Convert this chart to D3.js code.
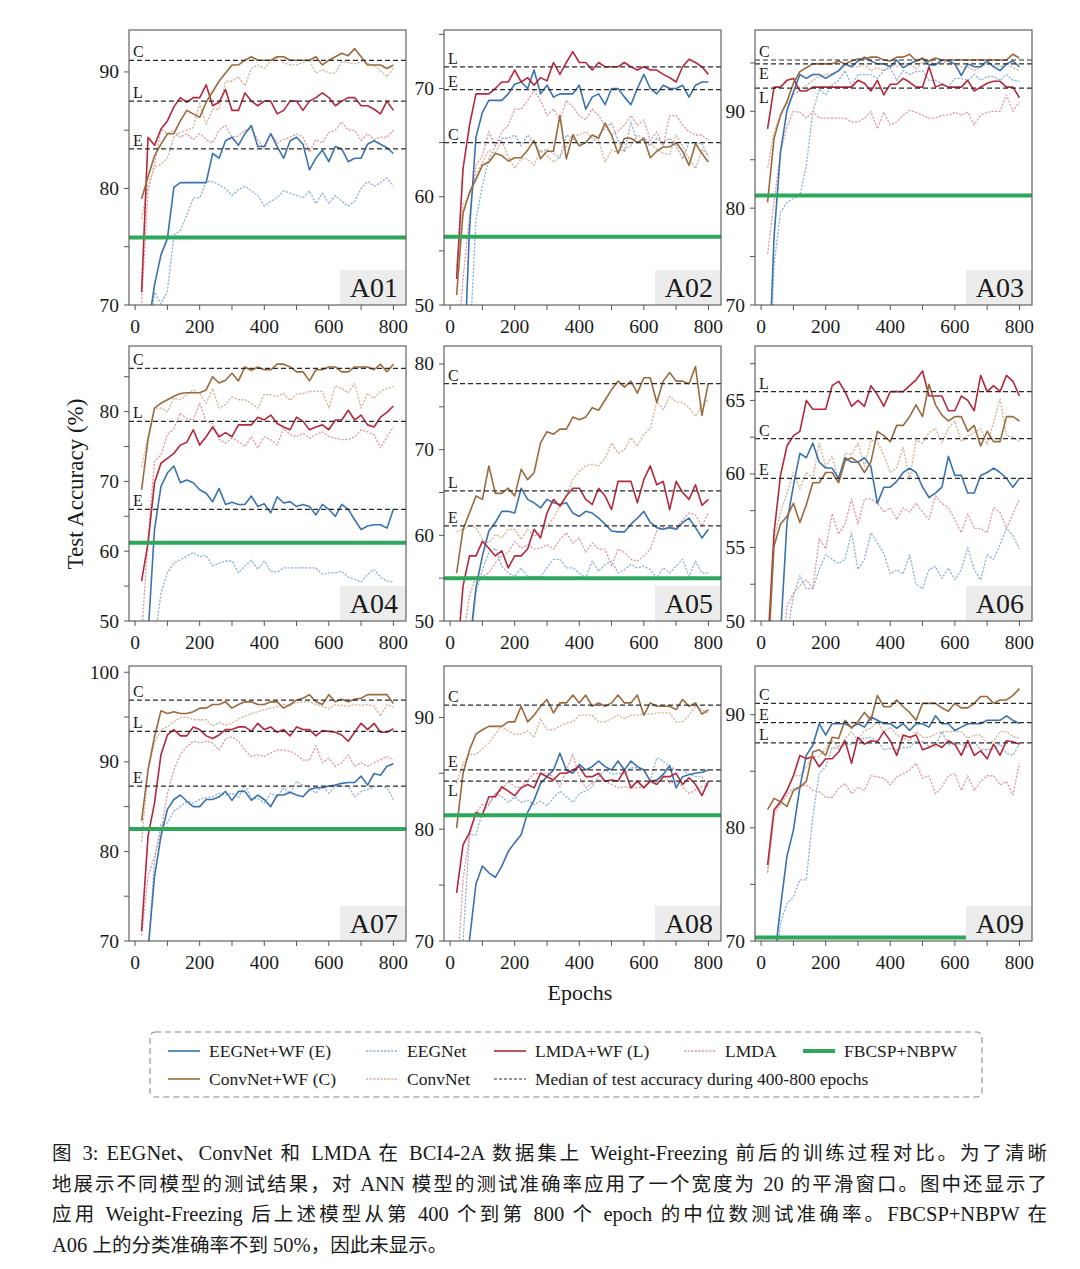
<!DOCTYPE html>
<html><head><meta charset="utf-8">
<script src="https://cdn.jsdelivr.net/npm/d3@7"></script>
<style>
body{margin:0;background:#fff;}
svg text{font-family:"Liberation Serif","Times New Roman",serif;fill:#1a1a1a;}
</style>
</head><body>
<svg id="c" width="1080" height="1269"></svg>
<script>
// ---------------- DATA ----------------
const epochs = [20,40,60,80,100,120,140,160,180,200,220,240,260,280,300,320,340,360,380,400,420,440,460,480,500,520,540,560,580,600,620,640,660,680,700,720,740,760,780,800];
const subjects = ["A01","A02","A03","A04","A05","A06","A07","A08","A09"];
const xTickLabels = [0,200,400,600,800];
const xMinorTicks = [100,300,500,700];

// A01
const a01_EEGNetWF = [65,68,71.7,74.3,75.7,80.1,80.5,80.5,80.5,80.5,80.5,83.0,82.6,84.1,84.4,83.7,84.7,85.4,83.6,83.6,84.7,83.6,82.6,84.1,84.4,83.8,81.6,82.6,83.3,82.3,83.6,83.4,82.3,82.6,82.6,83.8,84.1,83.8,83.5,83.0];
const a01_EEGNet   = [62,66,71.1,70.1,71.2,76.0,76.4,77.7,79.2,79.2,80.6,80.6,80.3,80.0,79.4,79.9,80.2,79.8,79.4,78.5,78.9,79.2,79.8,79.6,79.4,79.2,79.8,78.7,79.6,78.7,79.4,78.9,78.5,78.9,80.0,80.6,80.2,80.5,80.9,80.2];
const a01_LMDAWF   = [71.1,84.4,83.7,85.1,85.8,87.0,87.8,87.4,87.8,87.8,88.9,87.1,87.4,88.5,86.7,86.7,88.2,87.5,87.1,87.5,87.5,86.4,86.7,87.5,87.5,86.7,87.5,87.8,88.2,87.8,87.1,87.5,87.8,87.8,87.1,87.1,86.8,86.4,87.5,86.7];
const a01_LMDA     = [70.2,79.8,82.1,85.1,84.7,85.0,84.4,84.7,84.2,84.7,84.2,83.9,85.0,85.4,84.4,84.5,85.0,85.1,84.2,83.4,84.7,83.9,84.2,84.4,84.7,84.4,83.1,84.2,83.9,84.8,85.0,85.7,85.0,85.0,84.1,84.7,84.2,84.4,84.4,85.0];
const a01_ConvNetWF= [79.1,81.0,82.8,83.8,84.7,84.7,85.8,86.7,86.4,86.1,87.4,88.3,89.2,89.9,90.6,90.6,91.0,91.3,91.0,91.0,91.0,91.3,91.3,91.0,91.0,91.0,91.0,91.3,90.6,91.0,91.3,91.6,91.4,92.0,91.3,90.6,90.6,90.6,90.3,90.6];
const a01_ConvNet  = [77.4,80.3,81.8,82.1,82.6,84.4,84.8,85.0,85.2,87.3,85.5,86.8,86.8,89.2,89.2,89.6,88.8,90.3,90.6,90.3,90.9,91.3,90.8,90.6,90.6,90.8,91.0,89.9,90.2,89.9,89.9,90.9,90.8,90.7,90.9,90.7,90.6,90.1,89.6,90.3];
// A02
const a02_EEGNetWF = [35,42,57,65.5,67.8,68.9,68.9,68.9,69.5,70.4,70.6,70.0,71.7,69.5,70.3,69.2,69.5,69.5,69.5,70.3,68.1,69.2,69.5,68.5,70.0,70.0,69.2,68.5,70.0,71.3,70.0,69.5,70.3,70.0,70.0,70.3,69.2,70.3,70.6,70.6];
const a02_EEGNet   = [30,38,46,57.9,61.0,63.5,64.7,65.4,65.4,65.7,64.7,65.7,65.0,64.1,64.4,64.0,63.6,65.7,65.4,64.7,65.0,65.0,65.7,66.3,66.8,65.2,64.1,66.9,65.0,65.2,64.7,65.4,65.0,65.4,64.7,63.5,65.0,64.9,64.9,63.7];
const a02_LMDAWF   = [52.4,62.6,66.6,69.5,69.5,69.5,70.0,70.6,70.6,71.7,70.6,71.0,70.3,71.0,70.7,72.4,71.3,72.4,73.4,72.4,72.4,71.7,72.4,72.0,72.0,72.0,72.4,72.0,71.7,72.0,71.7,71.7,71.3,71.0,70.6,72.0,72.7,72.4,72.0,71.3];
const a02_LMDA     = [45,52.4,58.2,62.9,63.8,66.0,64.7,66.0,66.6,68.1,68.1,68.9,69.8,68.9,67.5,68.1,67.1,68.9,68.3,67.5,67.1,68.1,67.5,66.6,65.7,66.1,66.6,67.5,66.6,67.1,65.2,66.0,64.7,67.5,67.5,66.6,66.0,65.7,65.7,65.2];
const a02_ConvNetWF= [50.9,58.5,60.4,61.6,62.9,63.2,64.0,63.8,63.3,63.6,63.6,64.3,65.2,63.5,64.2,64.2,67.5,63.5,65.7,64.7,65.0,65.7,65.4,66.8,65.7,64.0,65.4,65.4,65.0,65.4,63.6,64.2,64.6,64.6,65.0,64.2,62.9,64.9,64.0,63.2];
const a02_ConvNet  = [53.6,59.2,60.1,62.0,63.2,64.3,64.0,65.2,63.7,62.6,63.5,63.5,62.9,64.3,63.8,63.2,63.7,64.7,65.7,65.7,66.0,65.4,65.2,63.2,64.3,64.1,64.4,64.7,65.7,65.4,64.9,64.4,64.0,63.9,65.7,64.7,63.5,62.6,64.4,63.8];
// A03
const a03_EEGNetWF = [60,77,85.8,90.1,92.0,93.8,93.4,93.8,93.8,93.4,93.8,94.2,94.9,94.6,95.2,95.6,95.2,94.9,94.9,94.6,95.3,94.5,94.9,95.2,95.5,94.8,94.8,95.3,95.2,94.9,93.7,94.9,94.6,94.6,95.2,94.6,94.2,94.9,95.2,94.6];
const a03_EEGNet   = [58,74.1,79.6,80.6,81.0,81.3,84.4,89.9,92.3,91.7,92.7,93.2,94.2,92.7,93.8,93.8,93.8,93.4,94.2,94.5,93.2,94.2,93.8,94.1,94.2,93.2,93.2,92.9,92.5,93.4,93.4,93.2,93.8,93.2,93.6,93.6,93.2,93.8,93.2,93.1];
const a03_LMDAWF   = [88.2,92.5,92.5,93.2,93.4,92.1,92.1,92.5,92.5,92.5,92.5,92.5,92.5,92.5,93.2,92.9,92.1,93.2,91.7,92.8,92.8,93.4,93.0,92.5,92.5,94.6,92.5,92.8,92.5,92.5,92.5,93.2,92.1,92.5,92.9,93.1,93.1,92.5,92.5,91.4];
const a03_LMDA     = [75.3,80.6,85.8,88.4,90.0,89.9,89.3,90.0,89.3,89.3,89.3,89.3,89.3,88.9,88.9,89.3,90.0,88.2,89.9,88.6,88.9,89.6,90.1,89.9,89.6,89.3,89.3,89.6,89.6,89.9,89.6,89.9,88.6,89.6,89.9,90.0,90.0,91.7,90.0,91.0];
const a03_ConvNetWF= [80.6,87.2,89.6,91.0,92.9,94.1,94.5,94.9,94.9,94.9,94.9,95.2,94.9,95.2,95.4,95.4,95.6,95.6,95.3,95.2,95.6,95.6,95.9,95.2,95.4,95.2,95.5,95.3,95.3,95.3,95.3,95.3,95.3,95.3,95.3,95.3,95.3,95.3,95.9,95.5];
const a03_ConvNet  = [84.1,87.9,89.6,90.8,91.7,92.2,92.7,93.2,93.6,93.8,93.9,94.1,94.8,94.6,94.6,94.8,94.2,94.5,94.2,94.8,94.6,94.9,94.9,94.4,95.1,95.1,94.9,95.2,94.8,94.9,94.6,94.6,94.2,94.6,94.9,94.8,94.6,94.9,94.5,94.2];
// A04
const a04_EEGNetWF = [40,48,63.1,69.3,71.2,72.2,69.8,70.2,69.8,68.8,68.3,67.1,69.0,66.7,67.0,66.7,66.7,67.9,66.4,66.8,65.5,67.8,66.9,67.1,66.4,66.7,66.4,65.2,66.7,66.0,65.0,66.7,66.0,64.5,63.1,63.6,63.8,63.8,63.3,66.0];
const a04_EEGNet   = [38,42,47,54,56.9,58.3,58.8,59.3,59.8,59.2,59.4,57.9,58.3,58.6,58.6,56.9,57.9,58.7,57.4,58.6,57.1,57.0,57.6,57.6,57.6,57.6,57.6,57.6,56.7,56.9,56.9,57.1,56.3,56.0,55.6,56.7,57.4,56.3,55.7,55.6];
const a04_LMDAWF   = [55.7,61.2,69.8,72.6,73.3,74.0,75.2,75.6,77.4,75.2,76.4,77.8,76.4,77.0,76.4,78.1,78.1,78.1,79.2,78.8,79.5,78.3,77.8,77.4,79.2,78.6,77.4,77.8,78.1,77.4,78.8,78.8,80.2,78.8,79.5,78.1,77.8,79.2,79.9,80.8];
const a04_LMDA     = [48,61.7,72.9,73.8,76.7,77.6,79.8,79.0,78.8,81.2,78.6,78.3,76.0,75.5,76.2,75.7,75.0,76.4,74.8,76.4,76.0,75.2,77.6,76.7,76.4,76.9,76.2,76.7,77.1,76.4,76.2,76.0,76.0,76.4,77.4,77.1,76.7,74.8,76.4,77.8];
const a04_ConvNetWF= [68.8,76.0,80.5,81.2,81.7,82.2,82.6,82.7,82.7,82.7,83.1,85.0,84.1,84.5,85.5,84.4,86.4,85.9,86.4,86.0,86.0,86.8,86.8,86.4,85.7,85.7,84.4,86.0,86.0,86.4,86.4,85.7,85.7,86.4,86.4,86.4,86.0,86.8,85.7,86.8];
const a04_ConvNet  = [72.1,76.4,80.5,80.5,80.0,81.9,81.7,82.4,83.1,82.6,81.2,83.3,80.5,81.0,82.1,81.7,81.7,81.2,80.5,82.5,82.4,82.2,82.6,81.6,82.5,82.6,82.9,82.9,82.9,80.5,83.7,83.3,82.7,84.0,80.5,82.6,81.9,82.9,83.3,83.6];
// A05
const a05_EEGNetWF = [38,42,47,53.9,57.6,60.5,61.5,62.8,62.8,62.6,65.5,64.2,63.8,63.2,64.2,63.8,63.6,63.8,62.6,62.2,62.8,62.6,62.0,61.3,60.5,60.4,60.4,61.3,62.0,62.8,61.5,60.9,60.7,60.9,60.7,61.5,62.0,60.9,59.7,60.7];
const a05_EEGNet   = [38,42,46,53.3,56.0,58.0,58.5,56.4,55.6,55.2,56.2,55.2,55.2,55.2,56.2,57.2,57.2,56.2,56.2,55.6,55.0,57.0,55.8,56.6,57.0,55.6,56.0,56.6,56.2,56.4,56.0,55.0,56.2,55.6,56.4,57.2,55.2,57.0,55.6,55.6];
const a05_LMDAWF   = [45,54.1,57.6,57.6,59.3,58.5,57.6,58.2,56.2,57.6,57.6,58.4,60.7,59.7,62.6,64.2,63.4,64.6,65.5,65.5,64.2,63.6,65.5,64.6,63.0,66.3,66.3,66.3,63.8,66.5,68.1,65.9,66.3,63.0,66.3,65.0,64.2,65.9,63.5,64.2];
const a05_LMDA     = [42,48,52.9,55.2,55.2,55.6,56.8,57.6,58.0,59.3,58.5,58.9,58.4,58.5,58.9,58.4,59.5,60.3,59.1,59.7,58.0,59.1,58.4,58.4,56.4,58.4,58.0,57.2,57.0,57.6,58.4,60.5,60.9,60.9,60.9,61.8,62.6,62.4,61.1,62.6];
const a05_ConvNetWF= [55.6,60.7,62.6,64.6,64.2,68.1,64.9,64.9,65.5,64.6,67.7,66.5,67.3,70.8,72.1,71.8,72.4,72.4,73.8,73.5,73.8,74.9,74.6,75.8,77.0,78.0,77.3,78.0,76.6,78.4,78.4,75.5,78.0,79.0,78.0,78.0,77.7,79.7,74.0,77.8];
const a05_ConvNet  = [60.4,60.7,61.1,60.9,59.5,59.1,60.1,59.7,60.7,60.7,59.5,60.7,59.9,60.3,61.1,62.0,63.4,64.6,66.5,67.5,68.1,68.3,68.1,69.0,70.8,69.6,70.0,71.4,70.4,71.8,72.5,75.6,74.7,76.2,75.6,75.5,74.9,73.9,75.3,75.8];
// A06
const a06_EEGNetWF = [42,46,49,56.7,59.2,61.4,61.1,62.1,60.8,60.4,60.4,59.7,61.1,60.8,60.8,61.1,60.5,58.0,59.1,59.1,59.5,60.1,60.4,60.1,59.1,58.4,58.7,59.1,61.2,59.9,59.9,58.7,58.7,59.9,60.1,60.4,60.1,59.7,59.1,59.7];
const a06_EEGNet   = [38,42,46,49,51.7,53.1,52.2,52.2,53.5,54.5,54.2,53.9,54.2,56.0,53.5,54.2,56.0,55.3,54.6,53.2,53.5,53.2,54.5,52.5,52.2,53.5,53.7,52.9,53.6,52.8,53.5,55.0,53.5,52.8,54.5,54.2,55.2,56.3,55.8,54.9];
const a06_LMDAWF   = [48,56.0,59.9,61.9,62.6,62.9,65.0,64.4,64.4,64.4,66.0,66.3,65.6,64.6,65.0,64.6,66.0,65.4,64.6,65.6,65.6,65.6,66.0,66.4,67.0,65.3,65.3,65.3,64.3,64.3,65.3,65.0,64.3,66.7,65.6,66.0,65.6,66.7,66.3,65.3];
const a06_LMDA     = [40,44,47,51.0,51.9,52.4,52.8,52.2,55.6,54.9,57.3,55.9,56.6,58.3,56.6,58.3,58.3,58.0,57.4,57.7,56.9,57.7,57.4,58.0,57.4,56.9,58.5,58.0,57.7,56.9,56.0,57.3,56.3,56.3,56.0,57.7,57.4,56.3,57.3,58.3];
const a06_ConvNetWF= [47,55.1,56.6,57.1,58.0,56.7,57.9,59.4,59.4,60.1,60.1,59.4,60.9,61.1,60.8,60.1,60.8,62.9,62.6,62.2,63.3,63.3,63.9,64.7,63.9,66.1,64.7,64.0,63.6,63.9,63.9,62.9,63.3,61.9,62.9,62.2,62.2,63.9,63.9,63.6];
const a06_ConvNet  = [47,55.6,57.4,58.7,60.1,59.0,60.1,59.7,62.1,60.5,61.2,59.6,61.4,61.3,62.1,60.5,62.3,62.2,61.3,60.1,60.4,61.8,59.6,62.3,62.1,62.8,63.1,62.1,63.1,63.6,62.2,62.6,62.8,63.1,62.0,63.5,65.1,62.6,62.5,62.2];
// A07
const a07_EEGNetWF = [62,69,77.2,81.7,84.7,85.8,86.3,85.6,85.0,85.0,85.8,85.8,86.1,86.7,85.7,86.7,86.7,85.7,86.3,85.8,85.0,86.3,86.3,86.6,86.3,86.1,86.9,87.1,87.1,87.3,87.4,87.6,87.7,87.7,88.4,87.4,88.7,88.5,89.5,89.8];
const a07_EEGNet   = [60,68,79.1,83.0,83.2,84.5,85.0,85.6,85.4,85.8,86.0,86.1,86.5,86.3,86.5,86.0,87.4,85.9,85.9,85.4,86.5,86.1,87.1,86.5,87.8,87.4,87.1,86.5,87.3,86.5,87.3,87.3,87.3,86.1,86.7,86.9,87.2,87.3,87.1,85.8];
const a07_LMDAWF   = [71.1,81.7,85.4,90.8,93.0,93.6,92.9,92.9,93.9,93.6,92.9,92.6,93.0,93.6,93.6,93.9,93.9,93.4,94.3,93.6,93.9,93.3,93.6,92.9,93.9,93.6,93.6,92.9,93.5,93.4,93.3,93.0,92.3,93.3,94.3,93.6,94.3,93.3,93.3,93.7];
const a07_LMDA     = [70.6,77.2,79.5,82.1,86.5,89.1,90.8,91.7,92.3,92.1,92.3,92.1,91.3,92.6,92.8,92.3,91.3,90.6,90.8,90.6,91.0,91.3,91.3,91.2,90.8,90.2,90.2,91.8,89.9,90.4,89.5,89.9,90.8,89.5,89.9,89.5,89.9,90.2,90.6,90.2];
const a07_ConvNetWF= [83.4,89.1,92.8,95.7,95.4,95.6,95.4,95.4,95.6,96.0,96.0,96.4,96.4,96.7,96.0,96.4,96.7,96.7,96.4,96.4,96.7,96.7,96.0,96.4,96.9,97.1,97.5,96.7,96.4,97.5,96.7,97.0,96.7,97.0,97.1,97.5,97.5,97.5,97.5,96.5];
const a07_ConvNet  = [81.1,89.1,92.1,93.6,93.9,94.5,94.9,95.0,94.7,94.7,94.7,94.0,94.4,94.1,94.3,94.8,95.1,95.4,95.6,95.8,96.0,96.2,96.4,96.3,96.6,96.7,96.7,96.4,96.2,95.9,96.4,96.3,96.2,96.4,96.3,96.4,96.2,95.1,96.4,96.1];
// A08
const a08_EEGNetWF = [62,66,70.1,75.1,76.7,76.1,75.7,76.7,78.0,78.8,79.5,81.5,82.6,84.1,84.7,85.3,86.8,85.3,85.0,85.8,85.3,85.6,86.1,85.6,85.3,86.1,85.3,86.1,85.6,85.3,84.3,84.4,84.9,85.7,83.7,84.7,84.9,85.0,85.1,85.3];
const a08_EEGNet   = [62,70,79.5,79.5,81.5,82.2,83.2,82.9,82.4,82.9,82.4,82.6,82.2,82.5,82.1,82.8,83.4,82.9,82.4,83.2,83.4,83.8,84.7,85.3,84.9,85.0,85.0,85.5,85.5,85.3,84.3,86.4,86.1,85.6,85.3,85.3,84.9,84.7,84.7,83.8];
const a08_LMDAWF   = [74.3,78.6,79.7,81.5,81.3,82.9,82.9,83.8,83.4,83.0,83.7,84.0,83.7,85.0,84.7,84.4,85.0,85.0,85.3,85.6,84.7,84.7,85.0,84.3,84.4,84.3,85.3,83.7,84.3,83.7,84.3,84.0,84.7,84.7,85.0,84.0,84.6,84.0,83.0,84.3];
const a08_LMDA     = [66,75.5,79.4,81.5,82.2,82.2,83.2,83.5,84.3,83.8,83.7,84.4,85.0,85.0,85.0,84.7,83.8,85.3,86.7,84.7,83.7,84.1,84.4,84.3,84.0,83.7,83.8,83.7,83.7,83.8,84.4,84.3,84.9,84.1,84.3,83.8,83.2,83.5,83.8,84.0];
const a08_ConvNetWF= [80.1,85.0,87.1,88.5,88.9,89.2,89.2,89.2,89.6,89.6,91.0,89.6,90.2,91.0,91.6,90.4,91.3,91.3,92.0,91.3,92.0,91.0,91.3,91.0,91.3,92.0,91.3,91.3,92.0,90.2,91.3,91.0,91.0,91.0,90.7,91.6,91.0,91.3,90.3,90.7];
const a08_ConvNet  = [84.1,85.9,86.7,86.7,87.2,87.7,88.5,89.2,88.8,88.5,88.5,88.8,88.2,89.9,88.9,88.9,89.2,89.5,89.6,90.2,90.2,90.2,89.6,89.6,89.9,90.2,89.9,90.2,90.2,90.3,90.3,90.4,90.4,90.4,89.6,89.6,90.2,91.0,90.7,90.3];
// A09
const a09_EEGNetWF = [62,68,73,77.5,79.8,83.6,86.4,87.3,89.2,88.2,89.2,89.2,89.2,88.9,89.2,88.9,89.8,89.5,89.2,89.2,88.8,89.2,88.6,89.2,89.2,88.9,89.9,89.2,89.2,88.6,88.9,89.2,89.2,89.2,89.5,89.5,89.5,89.9,89.5,89.2];
const a09_EEGNet   = [60,66,71.6,73.3,73.9,75.4,75.4,81.0,84.8,85.4,87.1,87.0,87.4,87.4,87.9,87.9,88.0,87.7,86.9,87.0,86.9,87.1,87.1,87.7,87.6,87.2,87.2,88.5,87.3,87.4,87.4,87.1,87.6,86.9,86.9,87.0,87.4,86.6,86.4,87.4];
const a09_LMDAWF   = [76.7,81.6,82.3,83.3,84.6,86.4,86.1,86.3,85.4,86.1,86.1,86.7,87.7,85.7,88.0,87.4,87.7,87.6,88.5,87.7,86.4,88.2,88.0,88.2,86.9,87.1,87.4,87.1,87.7,87.4,86.4,87.7,86.4,86.8,86.1,87.4,86.4,87.7,87.6,87.4];
const a09_LMDA     = [76.1,81.3,82.1,82.9,83.5,83.6,83.8,83.3,83.2,82.7,82.7,83.5,83.9,83.0,83.6,83.3,84.6,84.5,84.4,83.8,84.5,84.8,85.1,85.7,84.4,84.6,83.0,83.6,84.6,84.8,83.3,84.6,83.3,84.1,84.6,84.6,83.8,84.1,82.9,85.7];
const a09_ConvNetWF= [81.6,82.6,82.3,81.9,83.3,83.6,84.1,86.7,86.9,86.4,88.0,87.9,89.5,88.8,89.4,90.2,89.5,91.7,90.7,90.7,91.3,90.7,90.2,89.5,91.0,91.0,91.0,90.6,90.3,91.0,90.6,90.6,91.0,91.6,91.6,91.0,91.3,91.3,91.7,92.3];
const a09_ConvNet  = [76.0,81.0,82.4,83.2,84.6,84.6,85.4,86.3,86.3,87.0,87.7,87.1,87.9,88.5,87.7,88.6,88.8,89.4,88.5,88.9,88.2,87.9,87.7,88.5,88.0,88.0,88.3,88.5,88.5,88.5,88.5,87.9,88.2,88.2,87.4,87.7,88.5,88.5,88.1,87.9];

// medians (400-800 epochs) of WF models, and FBCSP+NBPW accuracy
const medianE = [83.4, 69.9, 94.9, 66.0, 61.1, 59.7, 87.3, 85.3, 89.3];
const medianL = [87.5, 72.0, 92.4, 78.6, 65.2, 65.6, 93.4, 84.3, 87.5];
const medianC = [91.0, 65.0, 95.3, 86.2, 77.7, 62.4, 96.9, 91.1, 91.0];
const fbcsp   = [75.8, 56.3, 81.3, 61.2, 55.0, null, 82.5, 81.25, 70.3];

// y tick labels per subject
const yTickLabels = [[70,80,90],[50,60,70],[70,80,90],[50,60,70,80],[50,60,70,80],[50,55,60,65],[70,80,90,100],[70,80,90],[70,80,90]];
const yMinorTicks = [[75,85],[55,65,75],[75,85,95],[55,65,75,85],[55,65,75],[52.5,57.5,62.5,67.5],[75,85,95],[75,85],[75,85]];

const legendNames = ["EEGNet+WF (E)","EEGNet","LMDA+WF (L)","LMDA","FBCSP+NBPW","ConvNet+WF (C)","ConvNet","Median of test accuracy during 400-800 epochs"];
const captionLines = [
 "图 3: EEGNet、ConvNet 和 LMDA 在 BCI4-2A 数据集上 Weight-Freezing 前后的训练过程对比。为了清晰",
 "地展示不同模型的测试结果，对 ANN 模型的测试准确率应用了一个宽度为 20 的平滑窗口。图中还显示了",
 "应用 Weight-Freezing 后上述模型从第 400 个到第 800 个 epoch 的中位数测试准确率。FBCSP+NBPW 在",
 "A06 上的分类准确率不到 50%，因此未显示。"
];

// ---------------- STYLE / LAYOUT ----------------
const COL = {E:"#3b72ad", Ed:"#8fb2d6", L:"#b2283c", Ld:"#e09aa4", C:"#9a6a3d", Cd:"#d2b398", G:"#2ea65c"};
const yDomains = [[70,93.6],[50,75.4],[70,98.4],[50,89.4],[50,82.1],[50,68.7],[70,100.7],[70,94.6],[70,94.3]];
const colLeft = [129, 444, 755], rowTop = [30, 346, 666];
const PW = 277, PH = 275;
const labelBelow = {2:["E","L"], 7:["L"]};

const allSeries = {
 A01:[a01_EEGNetWF,a01_EEGNet,a01_LMDAWF,a01_LMDA,a01_ConvNetWF,a01_ConvNet],
 A02:[a02_EEGNetWF,a02_EEGNet,a02_LMDAWF,a02_LMDA,a02_ConvNetWF,a02_ConvNet],
 A03:[a03_EEGNetWF,a03_EEGNet,a03_LMDAWF,a03_LMDA,a03_ConvNetWF,a03_ConvNet],
 A04:[a04_EEGNetWF,a04_EEGNet,a04_LMDAWF,a04_LMDA,a04_ConvNetWF,a04_ConvNet],
 A05:[a05_EEGNetWF,a05_EEGNet,a05_LMDAWF,a05_LMDA,a05_ConvNetWF,a05_ConvNet],
 A06:[a06_EEGNetWF,a06_EEGNet,a06_LMDAWF,a06_LMDA,a06_ConvNetWF,a06_ConvNet],
 A07:[a07_EEGNetWF,a07_EEGNet,a07_LMDAWF,a07_LMDA,a07_ConvNetWF,a07_ConvNet],
 A08:[a08_EEGNetWF,a08_EEGNet,a08_LMDAWF,a08_LMDA,a08_ConvNetWF,a08_ConvNet],
 A09:[a09_EEGNetWF,a09_EEGNet,a09_LMDAWF,a09_LMDA,a09_ConvNetWF,a09_ConvNet]
};
const sStyle = [
 {c:COL.E, w:1.6, d:null},
 {c:COL.Ed, w:1.3, d:"2.2,1.4"},
 {c:COL.L, w:1.6, d:null},
 {c:COL.Ld, w:1.3, d:"2.2,1.4"},
 {c:COL.C, w:1.6, d:null},
 {c:COL.Cd, w:1.3, d:"2.2,1.4"}
];
const drawOrder = [1,3,5,0,2,4];

const svg = d3.select("#c");
const defs = svg.append("defs");

subjects.forEach((subj, i) => {
  const r = Math.floor(i/3), c = i%3;
  const x0 = colLeft[c], y0 = rowTop[r];
  const x = d3.scaleLinear().domain([-19, 839]).range([x0, x0+PW]);
  const y = d3.scaleLinear().domain(yDomains[i]).range([y0+PH, y0]);
  const g = svg.append("g");
  const cid = "clip"+i;
  defs.append("clipPath").attr("id", cid).append("rect")
    .attr("x", x0).attr("y", y0).attr("width", PW).attr("height", PH);
  const pg = g.append("g").attr("clip-path", `url(#${cid})`);
  const line = d3.line().x((d,k)=>x(epochs[k])).y(d=>y(d));
  const ser = allSeries[subj];
  drawOrder.forEach(si => {
    const st = sStyle[si];
    pg.append("path").datum(ser[si]).attr("d", line)
      .attr("fill","none").attr("stroke", st.c).attr("stroke-width", st.w)
      .attr("stroke-linejoin","round")
      .attr("stroke-dasharray", st.d);
  });
  if (fbcsp[i] !== null) {
    pg.append("line").attr("x1", x0).attr("x2", x0+PW)
      .attr("y1", y(fbcsp[i])).attr("y2", y(fbcsp[i]))
      .attr("stroke", COL.G).attr("stroke-width", 4);
  }
  const meds = [["C", medianC[i]], ["L", medianL[i]], ["E", medianE[i]]];
  meds.forEach(([lab, v]) => {
    pg.append("line").attr("x1", x0).attr("x2", x0+PW)
      .attr("y1", y(v)).attr("y2", y(v))
      .attr("stroke", "#2a2a2a").attr("stroke-width", 1.2).attr("stroke-dasharray","5,3");
    const below = (labelBelow[i]||[]).includes(lab);
    g.append("text").attr("x", x0+4).attr("y", below ? y(v)+15 : y(v)-3)
      .attr("font-size", 16).text(lab);
  });
  g.append("rect").attr("x", x0+PW-66).attr("y", y0+PH-35).attr("width", 66).attr("height", 35)
    .attr("fill", "#ececec");
  g.append("text").attr("x", x0+PW-8).attr("y", y0+PH-8).attr("text-anchor","end")
    .attr("font-size", 28).text(subj);
  g.append("rect").attr("x", x0).attr("y", y0).attr("width", PW).attr("height", PH)
    .attr("fill","none").attr("stroke","#555").attr("stroke-width",1.1);
  xTickLabels.concat(xMinorTicks).forEach(t => {
    g.append("line").attr("x1", x(t)).attr("x2", x(t)).attr("y1", y0+PH).attr("y2", y0+PH+5)
      .attr("stroke","#555").attr("stroke-width",1);
  });
  xTickLabels.forEach(t => {
    g.append("text").attr("x", x(t)).attr("y", y0+PH+28).attr("text-anchor","middle")
      .attr("font-size", 19.5).text(t);
  });
  yTickLabels[i].concat(yMinorTicks[i]).forEach(t => {
    g.append("line").attr("x1", x0-5).attr("x2", x0).attr("y1", y(t)).attr("y2", y(t))
      .attr("stroke","#555").attr("stroke-width",1);
  });
  yTickLabels[i].forEach(t => {
    g.append("text").attr("x", x0-10).attr("y", y(t)+6.5).attr("text-anchor","end")
      .attr("font-size", 19.5).text(t);
  });
});

svg.append("text").attr("transform","translate(83,484) rotate(-90)").attr("text-anchor","middle")
  .attr("font-size", 23).text("Test Accuracy (%)");
svg.append("text").attr("x", 580).attr("y", 1000).attr("text-anchor","middle")
  .attr("font-size", 22).text("Epochs");

// legend
svg.append("rect").attr("x",150).attr("y",1032).attr("width",832).attr("height",65).attr("rx",5)
  .attr("fill","none").attr("stroke","#8a8a8a").attr("stroke-width",1.1).attr("stroke-dasharray","6,4");
const legItems = [
 {n:0, x:168, y:1051, c:COL.E, w:1.6, d:null},
 {n:1, x:366, y:1051, c:COL.Ed, w:1.3, d:"2.2,1.4"},
 {n:2, x:494, y:1051, c:COL.L, w:1.6, d:null},
 {n:3, x:684, y:1051, c:COL.Ld, w:1.3, d:"2.2,1.4"},
 {n:4, x:803, y:1051, c:COL.G, w:4, d:null},
 {n:5, x:168, y:1079, c:COL.C, w:1.6, d:null},
 {n:6, x:366, y:1079, c:COL.Cd, w:1.3, d:"2.2,1.4"},
 {n:7, x:494, y:1079, c:"#2a2a2a", w:1.2, d:"3,2"}
];
legItems.forEach(it => {
  svg.append("line").attr("x1", it.x).attr("x2", it.x+32).attr("y1", it.y).attr("y2", it.y)
    .attr("stroke", it.c).attr("stroke-width", it.w).attr("stroke-dasharray", it.d);
  svg.append("text").attr("x", it.x+41).attr("y", it.y+6).attr("font-size", 17.5).text(legendNames[it.n]);
});

// caption: Latin runs in serif, CJK runs in CJK font; justify lines 1-3 via spacing at spaces and between CJK chars
const capY = [1160, 1191, 1221, 1252];
const isCJK = ch => /[\u3000-\u303f\u3400-\u9fff\uff00-\uffef]/.test(ch);
captionLines.forEach((t, k) => {
  const tx = svg.append("text").attr("x", 52).attr("y", capY[k]);
  const runs = [];
  for (const ch of t) {
    const cj = isCJK(ch);
    if (runs.length && runs[runs.length-1].cj === cj) runs[runs.length-1].s += ch;
    else runs.push({cj, s: ch});
  }
  const spans = runs.map(rn => tx.append("tspan")
    .style("font-family", rn.cj ? "'Noto Sans CJK SC'" : "'Liberation Serif'")
    .attr("font-size", rn.cj ? 19.5 : 20.5).text(rn.s));
  if (k < 3) {
    const nat = tx.node().getComputedTextLength();
    const chars = [...t];
    const nSp = chars.filter(ch => ch === " ").length;
    const nCJ = chars.filter(isCJK).length - (isCJK(chars[chars.length-1]) ? 1 : 0);
    const per = (995 - nat) / (nSp + nCJ);
    spans.forEach((s, j) => {
      if (runs[j].cj) s.attr("letter-spacing", per);
      else s.attr("word-spacing", per);
    });
  }
});
</script>
</body></html>
